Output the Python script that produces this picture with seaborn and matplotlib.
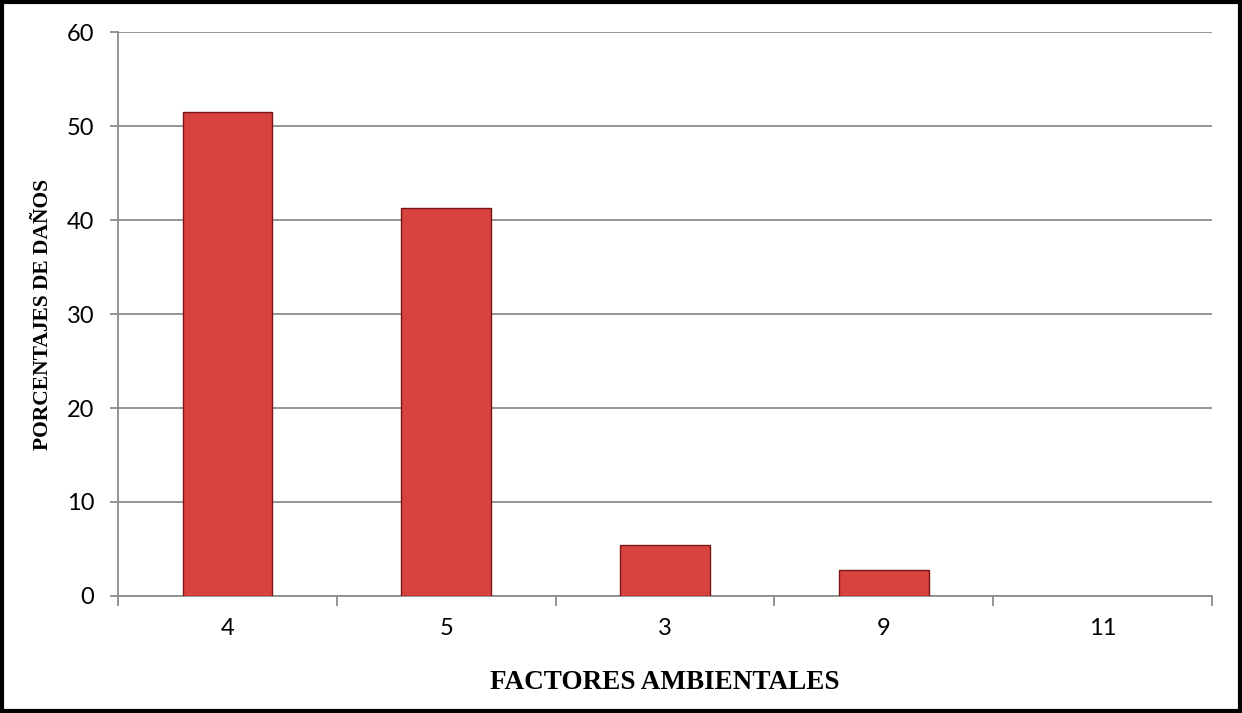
import matplotlib
matplotlib.use("Agg")
import matplotlib.pyplot as plt
import seaborn as sns
import pandas as pd
from matplotlib.patches import Rectangle

categories = ["4", "5", "3", "9", "11"]
values = [51.5, 41.3, 5.4, 2.8, 0.0]
yticks = [0, 10, 20, 30, 40, 50, 60]

sns.set_style("white")
plt.rcParams['font.family'] = ['Lato', 'DejaVu Sans']
plt.rcParams['text.color'] = 'black'
plt.rcParams['axes.labelcolor'] = 'black'
plt.rcParams['xtick.labelcolor'] = 'black'
plt.rcParams['ytick.labelcolor'] = 'black'

df = pd.DataFrame({"factor": categories, "pct": values})

fig = plt.figure(figsize=(12.42, 7.13), dpi=100)
ax = fig.add_axes([0.095, 0.1641, 0.8808, 0.791])

sns.barplot(data=df, x="factor", y="pct", order=categories, color="#D8433F",
            width=0.41, edgecolor="#7A1515", linewidth=1.0, saturation=1, ax=ax, zorder=3)
for p in ax.patches:
    if p.get_height() == 0:
        p.set_linewidth(0)

ax.set_ylim(0, 60)
ax.set_xlim(-0.5, len(categories) - 0.5)
ax.set_yticks(yticks)
ax.yaxis.grid(True, color="#8C8C8C", linewidth=1.3, zorder=0)
ax.set_axisbelow(True)
for s in ["top", "right"]:
    ax.spines[s].set_visible(False)
for s in ["left", "bottom"]:
    ax.spines[s].set_color("#8C8C8C")
    ax.spines[s].set_linewidth(1.3)
ax.tick_params(axis="y", length=6, width=1.3, color="#8C8C8C", labelcolor="black", labelsize=17, pad=11, direction="out", left=True)
ax.tick_params(axis="x", which="major", length=0, labelcolor="black", labelsize=17, pad=16)
ax.set_xticks([i - 0.5 for i in range(len(categories) + 1)], minor=True)
ax.tick_params(axis="x", which="minor", length=7, width=1.3, color="#8C8C8C", direction="out", bottom=True)

ax.set_xlabel("FACTORES AMBIENTALES", fontfamily="Liberation Serif", fontweight="bold", fontsize=19.5, labelpad=22, color="black")
ax.set_ylabel("PORCENTAJES DE DAÑOS", fontfamily="Liberation Serif", fontweight="bold", fontsize=15.5, labelpad=10, color="black")

fig.patches.append(Rectangle((0.0015, 0.0025), 0.997, 0.995, transform=fig.transFigure,
                             fill=False, edgecolor="black", linewidth=3))

fig.savefig("out.png", dpi=100)
